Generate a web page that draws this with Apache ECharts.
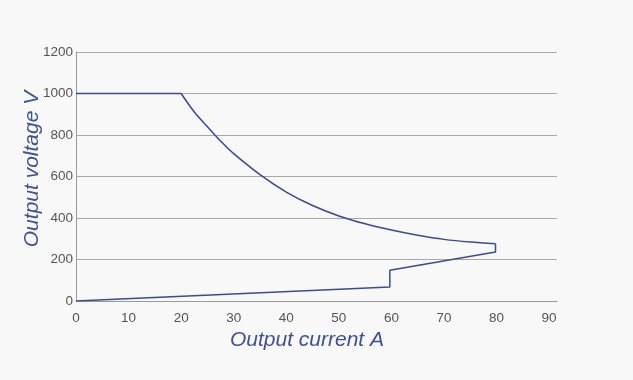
<!DOCTYPE html>
<html><head><meta charset="utf-8">
<script src="https://cdn.jsdelivr.net/npm/echarts@6/dist/echarts.min.js"></script>
<style>html,body{margin:0;padding:0;background:#f8f8f8}#c{width:633px;height:380px}</style>
</head><body><div id="c"></div>
<script>
// Constant-voltage part (straight)
const pathCurrent = [0, 20];
const pathVoltage = [1000, 1000];
// Constant-power curve
const curveCurrent = [20, 22.5, 25, 27.5, 30, 35, 40, 45, 50, 55, 60, 65, 70, 75, 79.8];
const curveVoltage = [1000, 911, 840, 771, 710, 609, 525, 460, 410, 372, 342, 317, 297, 284, 276];
// Return path back to the origin
const returnCurrent = [79.8, 79.8, 59.7, 59.7, 0];
const returnVoltage = [276, 236, 148, 67, 0];
const xTicks = [0, 10, 20, 30, 40, 50, 60, 70, 80, 90];
const yTicks = [0, 200, 400, 600, 800, 1000, 1200];
const pairs = (a, b) => a.map((v, i) => [v, b[i]]);
const lineColor = '#3a4a98';
const titleFont = 'italic 21px "Liberation Sans"';
const chart = echarts.init(document.getElementById('c'));
chart.setOption({
  backgroundColor: '#f8f8f8',
  animation: false,
  grid: {left: 76, right: 76, top: 52, bottom: 79},
  graphic: [{
    type: 'text', x: 32, y: 169, rotation: Math.PI / 2,
    style: {text: 'Output voltage V', fill: '#3d5296', font: titleFont, align: 'center', verticalAlign: 'middle'}
  }, {
    type: 'text', x: 307, y: 340,
    style: {text: 'Output current A', fill: '#3d5296', font: titleFont, align: 'center', verticalAlign: 'middle'}
  }],
  xAxis: {
    type: 'value', min: xTicks[0], max: 91.5, interval: 10,
    axisLine: {lineStyle: {color: '#9a9a9a'}}, axisTick: {show: false},
    axisLabel: {color: '#555', fontSize: 13.5, fontFamily: 'Liberation Sans', margin: 10,
      formatter: v => xTicks.includes(v) ? String(v) : ''},
    splitLine: {show: false}
  },
  yAxis: {
    type: 'value', min: yTicks[0], max: yTicks[yTicks.length-1], interval: 200,
    axisLine: {show: true, lineStyle: {color: '#9a9a9a'}}, axisTick: {show: false},
    axisLabel: {color: '#555', fontSize: 13.5, fontFamily: 'Liberation Sans', margin: 3, formatter: v => String(v)},
    splitLine: {lineStyle: {color: '#a8a8a8'}}
  },
  series: [
    {type: 'line', data: pairs(pathCurrent, pathVoltage), showSymbol: false, lineStyle: {color: lineColor, width: 1.5}},
    {type: 'line', data: pairs(curveCurrent, curveVoltage), showSymbol: false, smooth: 0.3, lineStyle: {color: lineColor, width: 1.5}},
    {type: 'line', data: pairs(returnCurrent, returnVoltage), showSymbol: false, lineStyle: {color: lineColor, width: 1.5}}
  ]
});
</script></body></html>
